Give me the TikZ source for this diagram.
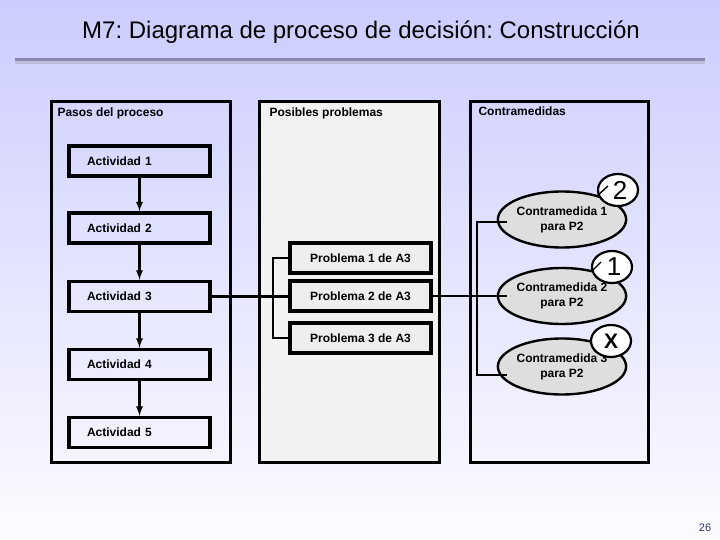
\documentclass[tikz,border=0pt]{standalone}
\usepackage{fontspec}
\setmainfont{Liberation Sans}
\usepackage{tikz}
\usetikzlibrary{calc,shapes.geometric}
\frenchspacing

\definecolor{bgTop}{RGB}{204,204,255}
\definecolor{bgBot}{RGB}{252,252,255}
\definecolor{ruleCol}{RGB}{136,136,178}
\definecolor{panelGray}{RGB}{242,242,242}
\definecolor{probGray}{RGB}{238,238,238}
\definecolor{cmGray}{RGB}{222,222,222}
\definecolor{pageNum}{RGB}{51,51,102}

\begin{document}
\begin{tikzpicture}[x=1pt, y=-1pt, >=latex,
    lbl/.style={font=\fontsize{12}{15}\selectfont\bfseries},
    panel/.style={draw, line width=3pt},
    actbox/.style={lbl, draw, line width=3.4pt, text width=105pt, inner xsep=18pt, minimum height=30pt, align=left},
    probbox/.style={lbl, draw, fill=probGray, line width=3.4pt, minimum width=141pt, minimum height=30pt},
    cmshape/.style={lbl, ellipse, draw, fill=cmGray, line width=2.4pt, minimum width=128pt, minimum height=56pt, inner sep=0pt, align=center},
    rankmark/.style={ellipse, draw, fill=white, line width=2.2pt, minimum width=40pt, minimum height=32pt, inner sep=0pt},
    link/.style={line width=2.2pt}]
        % Parameters
        \def\actX{139.5}
        \def\probX{360.5}
        \def\cmX{562}

        % Background and title
        \useasboundingbox (0,0) rectangle (720,540);
        \shade[top color=bgTop, bottom color=bgBot] (0,0) rectangle (720,540);
        \node[font=\fontsize{24}{28}\selectfont] (title) at (361,32) {M7: Diagrama de proceso de decisión: Construcción};
        \draw[line width=2.4pt, ruleCol!55] (15,62.5) -- (705,62.5);
        \draw[line width=3pt, ruleCol] (15,60) -- (705,60);

        % Panels
        \draw[panel] (51,102) rectangle (230,462);
        \draw[panel, fill=panelGray] (259,102) rectangle (439,462);
        \draw[panel] (470,102) rectangle (648,462);
        \node[lbl, anchor=west] (pasos) at (54,113) {Pasos del proceso};
        \node[lbl, anchor=west] (posibles) at (266,113) {Posibles problemas};
        \node[lbl, anchor=west] (contra) at (475,111) {Contramedidas};

        % Process steps
        \foreach \i/\y in {1/161,2/228,3/296.5,4/364.5,5/432.5}
            \node[actbox] (A\i) at (\actX,\y) {Actividad \i};
        \foreach \i/\j in {1/2,2/3,3/4,4/5}
            \draw[->, link] (A\i) -- (A\j);

        % Possible problems
        \node[probbox] (P1) at (\probX,258) {Problema 1 de A3};
        \node[probbox] (P2) at (\probX,296) {Problema 2 de A3};
        \node[probbox] (P3) at (\probX,338) {Problema 3 de A3};

        \draw[link] (A3.east) -- (A3.east -| P2.west);
        \draw[link] (P1.west) -- ++(-15,0) |- (P3.west);

        % Countermeasures
        \node[cmshape] (C1) at (\cmX,219.5) {Contramedida 1\\para P2};
        \node[cmshape] (C2) at (\cmX,296) {Contramedida 2\\para P2};
        \node[cmshape] (C3) at (\cmX,366.5) {Contramedida 3\\para P2};

        \draw[link] (P2.east) -- ($(C2.west)+(10,0)$);
        \draw[link] ($(C1.west)+(10,2.5)$) -- ++(-30,0) |- ($(C3.west)+(10,8.5)$);

        % Ranking marks
        \node[rankmark, font=\fontsize{26}{26}\selectfont] (R1) at (618,190) {\hspace{4pt}2};
        \node[rankmark, font=\fontsize{26}{26}\selectfont] (R2) at (612,267) {\hspace{4pt}1};
        \node[rankmark, font=\fontsize{21}{21}\selectfont\bfseries] (R3) at (611,341) {X};
        \draw[line width=1.4pt] ($(R1.center)+(-21,6)$) -- ++(11,-10);
        \draw[line width=1.4pt] ($(R2.center)+(-20,4)$) -- ++(9,-9);

        % Page number
        \node[font=\fontsize{11}{13}\selectfont, text=pageNum] (pnum) at (705,528) {26};
\end{tikzpicture}
\end{document}
